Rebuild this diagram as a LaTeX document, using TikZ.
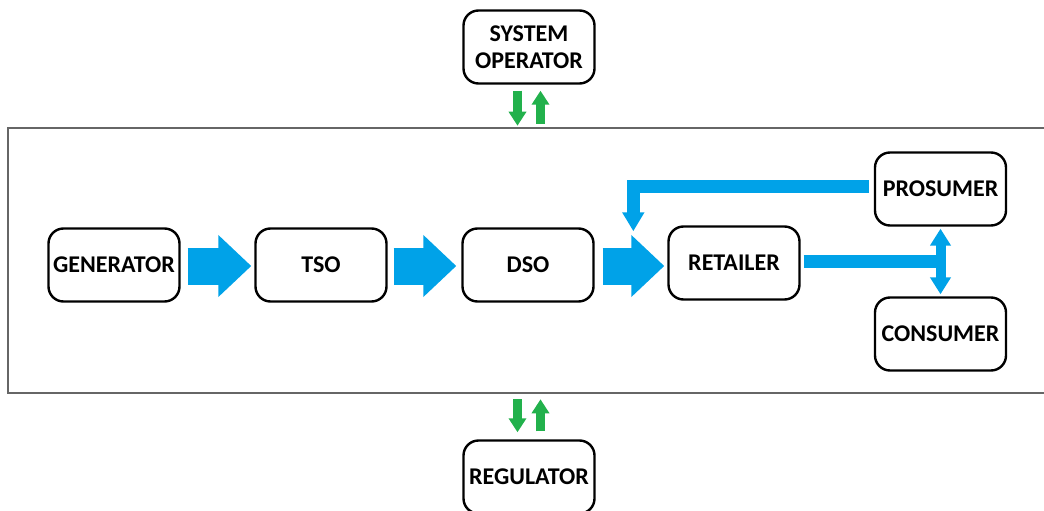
\documentclass[tikz,border=0pt]{standalone}
\usepackage{fontspec}
\setmainfont{Carlito}
\usetikzlibrary{arrows.meta,calc}
\definecolor{flowblue}{RGB}{0,162,232}
\definecolor{ctrlgreen}{RGB}{34,177,76}
\begin{document}
\begin{tikzpicture}[x=1pt,y=-1pt,
  actor/.style={draw=black,line width=2.4pt,rounded corners=15pt,fill=white,
    minimum width=131pt,minimum height=73pt,inner sep=0pt,align=center,
    font=\fontsize{24}{27}\selectfont\bfseries},
  bigflow/.style={flowblue,line width=37pt,-{Triangle[length=33pt,width=60pt]}},
  link/.style={flowblue,line width=13pt},
  linktip/.style={link,-{Triangle[length=19pt,width=21pt]}},
  both/.style={flowblue,line width=10pt,{Triangle[length=17pt,width=20pt]}-{Triangle[length=17pt,width=20pt]}},
  ctrl/.style={ctrlgreen,line width=9pt,-{Triangle[length=14pt,width=17pt]}}]
\useasboundingbox (0,0) rectangle (1044,511);
% market frame
\draw[gray!80!black,line width=1.2pt] (8,128) rectangle (1060,393);
% actors
\node[actor] (gen) at (114,265) {GENERATOR};
\node[actor] (tso) at (321,265) {TSO};
\node[actor] (dso) at (528,265) {DSO};
\node[actor] (ret) at (734,263) {RETAILER};
\node[actor] (pro) at (940.5,189) {PROSUMER};
\node[actor] (con) at (940.5,334) {CONSUMER};
\node[actor] (sys) at (529,47) {SYSTEM\\OPERATOR};
\node[actor] (reg) at (529,477) {REGULATOR};
% energy flow
\draw[bigflow] ($(gen.east)+(7,1)$) -- ($(tso.west)+(-3,1)$);
\draw[bigflow] ($(tso.east)+(6,1)$) -- ($(dso.west)+(-5,1)$);
\draw[bigflow] ($(dso.east)+(8,1)$) -- ($(ret.west)+(-3,3)$);
% prosumer feedback into retailer
\coordinate (fbend) at ($(ret.north west)+(-34,6)$);
\draw[linktip] ($(pro.west)+(-5,-2.5)$) -| (fbend);
% retailer to end users
\coordinate (jn) at ($(pro.south)!0.5!(con.north)$);
\draw[link] ($(ret.east)+(3,-1.5)$) -- ($(jn |- ret.east)+(5,-1.5)$);
\draw[both] ($(pro.south)+(0,2)$) -- ($(con.north)+(0,-2)$);
% control exchanges
\draw[ctrl] ($(sys.south)+(-11.5,6)$) -- ($(sys.south)+(-11.5,41)$);
\draw[ctrl] ($(sys.south)+(11.5,39)$) -- ($(sys.south)+(11.5,6)$);
\draw[ctrl] ($(reg.north)+(-11.5,-40)$) -- ($(reg.north)+(-11.5,-7)$);
\draw[ctrl] ($(reg.north)+(11.5,-8)$) -- ($(reg.north)+(11.5,-40)$);
\end{tikzpicture}
\end{document}
